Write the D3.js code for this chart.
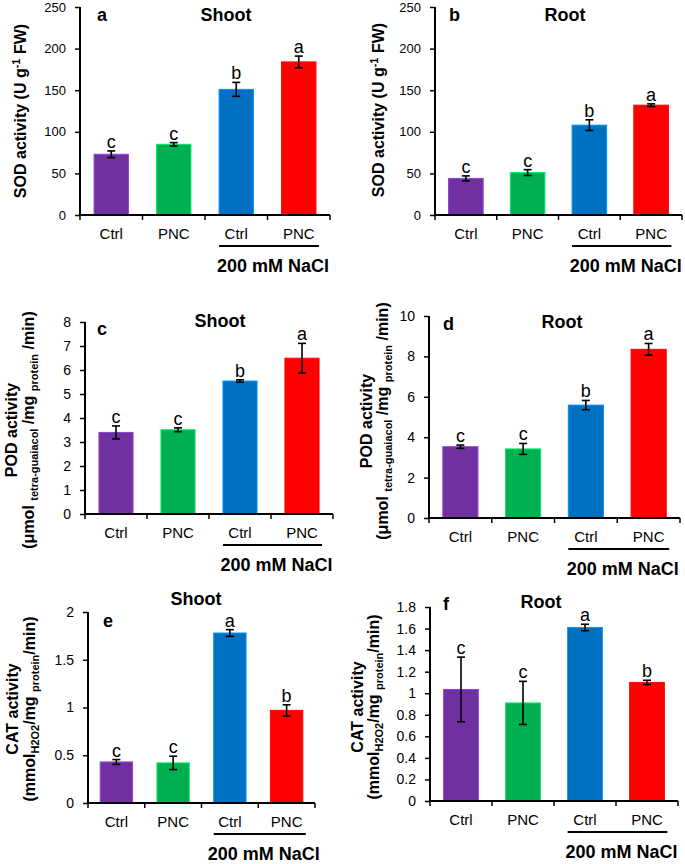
<!DOCTYPE html>
<html>
<head>
<meta charset="utf-8">
<script src="https://cdn.jsdelivr.net/npm/d3@7"></script>
<style>
  body { margin: 0; background: #fff; }
  svg { font-family: "Liberation Sans", Arial, sans-serif; }
</style>
</head>
<body>
<div id="chart"></div>
<script>
// data
var groups = ["Ctrl", "PNC", "Ctrl", "PNC"];
var barColors = ["#7030A0", "#00B050", "#0070C0", "#FF0000"];

var sodShoot = [73, 85, 151, 184];
var sodShootErr = [4, 2, 8.4, 7];
var sodShootSig = ["c", "c", "b", "a"];

var sodRoot = [44, 51, 108, 132];
var sodRootErr = [3, 3.5, 6.4, 1.6];
var sodRootSig = ["c", "c", "b", "a"];

var podShoot = [3.40, 3.51, 5.54, 6.49];
var podShootErr = [0.27, 0.08, 0.05, 0.62];
var podShootSig = ["c", "c", "b", "a"];

var podRoot = [3.53, 3.42, 5.59, 8.35];
var podRootErr = [0.08, 0.27, 0.23, 0.29];
var podRootSig = ["c", "c", "b", "a"];

var catShoot = [0.43, 0.42, 1.78, 0.97];
var catShootErr = [0.025, 0.07, 0.035, 0.058];
var catShootSig = ["c", "c", "a", "b"];

var catRoot = [1.035, 0.91, 1.61, 1.10];
var catRootErr = [0.30, 0.20, 0.03, 0.02];
var catRootSig = ["c", "c", "a", "b"];

var sodTicks = [0, 50, 100, 150, 200, 250];
var podShootTicks = [0, 1, 2, 3, 4, 5, 6, 7, 8];
var podRootTicks = [0, 2, 4, 6, 8, 10];
var catShootTicks = [0, 0.5, 1, 1.5, 2];
var catRootTicks = [0, 0.2, 0.4, 0.6, 0.8, 1, 1.2, 1.4, 1.6, 1.8];

var svg = d3.select("#chart").append("svg")
    .attr("width", 685)
    .attr("height", 864);

// each panel: frame in pixels + texts
var podLabel = [[["POD activity", "n"]],
                [["(μmol ", "n"], ["tetra-guaiacol", "sub"], [" /mg ", "n"], ["protein", "sub"], [" /min)", "n"]]];
var catLabel = [[["CAT activity", "n"]],
                [["(mmol", "n"], ["H2O2", "sub"], ["/mg ", "n"], ["protein", "sub"], ["/min)", "n"]]];
var sodLabel = [[["SOD activity (U g", "n"], ["-1", "sup"], [" FW)", "n"]]];

var panels = [
  {vals: sodShoot, err: sodShootErr, sig: sodShootSig, ticks: sodTicks, tickFont: 13,
   left: 80, right: 330, top: 7, bottom: 215, pad: 0.45,
   letter: "a", letterX: 97, letterY: 21, title: "Shoot", titleX: 226, titleY: 21,
   labelX: 26, labelY: 111, labelGap: 0, labelSize: 16, label: sodLabel},
  {vals: sodRoot, err: sodRootErr, sig: sodRootSig, ticks: sodTicks, tickFont: 13,
   left: 435, right: 682, top: 7, bottom: 215, pad: 0.44,
   letter: "b", letterX: 449, letterY: 21, title: "Root", titleX: 565, titleY: 21,
   labelX: 384, labelY: 110, labelGap: 0, labelSize: 16, label: sodLabel},
  {vals: podShoot, err: podShootErr, sig: podShootSig, ticks: podShootTicks, tickFont: 14,
   left: 85, right: 333, top: 322, bottom: 514, pad: 0.45,
   letter: "c", letterX: 97, letterY: 335, title: "Shoot", titleX: 220, titleY: 327,
   labelX: 17, labelY: 430, labelGap: 17, labelSize: 16, label: podLabel},
  {vals: podRoot, err: podRootErr, sig: podRootSig, ticks: podRootTicks, tickFont: 14,
   left: 429, right: 680, top: 316, bottom: 518, pad: 0.44,
   letter: "d", letterX: 443, letterY: 330, title: "Root", titleX: 562, titleY: 328,
   labelX: 372, labelY: 421, labelGap: 16, labelSize: 16, label: podLabel},
  {vals: catShoot, err: catShootErr, sig: catShootSig, ticks: catShootTicks, tickFont: 14,
   left: 88, right: 315, top: 612, bottom: 803, pad: 0.43,
   letter: "e", letterX: 103, letterY: 627, title: "Shoot", titleX: 196, titleY: 605,
   labelX: 18, labelY: 709, labelGap: 17, labelSize: 16, label: catLabel},
  {vals: catRoot, err: catRootErr, sig: catRootSig, ticks: catRootTicks, tickFont: 14,
   left: 430, right: 678, top: 607, bottom: 801, pad: 0.44,
   letter: "f", letterX: 443, letterY: 610, title: "Root", titleX: 541, titleY: 608,
   labelX: 363, labelY: 707, labelGap: 16, labelSize: 16, label: catLabel}
];

panels.forEach(drawPanel);

function drawPanel(p) {
  var g = svg.append("g");
  var idx = d3.range(groups.length);

  var x = d3.scaleBand()
      .domain(idx)
      .range([p.left, p.right])
      .paddingInner(p.pad)
      .paddingOuter(p.pad / 2);

  var y = d3.scaleLinear()
      .domain([0, d3.max(p.ticks)])
      .range([p.bottom, p.top]);

  // bars
  g.selectAll(".bar")
    .data(p.vals)
    .enter()
    .append("rect")
      .attr("x", (d, i) => x(i))
      .attr("y", d => y(d))
      .attr("width", x.bandwidth())
      .attr("height", d => y(0) - y(d))
      .attr("fill", (d, i) => barColors[i])
      .attr("stroke", (d, i) => d3.color(barColors[i]).brighter(0.8))
      .attr("stroke-width", 1);

  // error bars
  var eb = g.selectAll(".err")
    .data(p.vals)
    .enter()
    .append("g")
      .attr("stroke", "#000")
      .attr("stroke-width", 1.6);
  eb.append("line")
      .attr("x1", (d, i) => x(i) + x.bandwidth() / 2)
      .attr("x2", (d, i) => x(i) + x.bandwidth() / 2)
      .attr("y1", (d, i) => y(d + p.err[i]))
      .attr("y2", (d, i) => y(d - p.err[i]));
  [1, -1].forEach(function(s) {
    eb.append("line")
        .attr("x1", (d, i) => x(i) + x.bandwidth() / 2 - 4)
        .attr("x2", (d, i) => x(i) + x.bandwidth() / 2 + 4)
        .attr("y1", (d, i) => y(d + s * p.err[i]))
        .attr("y2", (d, i) => y(d + s * p.err[i]));
  });

  // significance letters
  g.selectAll(".sig")
    .data(p.vals)
    .enter()
    .append("text")
      .attr("x", (d, i) => x(i) + x.bandwidth() / 2)
      .attr("y", (d, i) => y(d + p.err[i]) - 3)
      .attr("text-anchor", "middle")
      .style("font-size", "18px")
      .text((d, i) => p.sig[i]);

  // y axis
  var yAxis = g.append("g")
      .attr("transform", "translate(" + p.left + ",0)")
      .call(d3.axisLeft(y).tickValues(p.ticks).tickSize(5).tickPadding(9)
        .tickFormat(v => String(v)));
  yAxis.select(".domain").attr("stroke-width", 2).attr("d", "M0," + p.top + "V" + p.bottom);
  yAxis.selectAll(".tick line").attr("stroke-width", 1.5);
  yAxis.selectAll("text").style("font-size", p.tickFont + "px").attr("fill", "#000");

  // x axis with category ticks at band edges
  var xAxis = g.append("g")
      .attr("transform", "translate(0," + p.bottom + ")")
      .call(d3.axisBottom(x).tickSize(0).tickPadding(13).tickFormat(i => groups[i]));
  xAxis.select(".domain").attr("stroke-width", 2).attr("d", "M" + (p.left - 1) + ",0H" + p.right);
  xAxis.selectAll("text").style("font-size", "15px").attr("fill", "#000");
  var edges = idx.map(i => x(i) - x.step() * x.paddingInner() / 2).concat([p.right]);
  xAxis.selectAll(".edge")
    .data(edges)
    .enter()
    .append("line")
      .attr("x1", d => d).attr("x2", d => d)
      .attr("y1", 0).attr("y2", 5)
      .attr("stroke", "#000").attr("stroke-width", 1.5);

  // NaCl bracket
  var bx0 = x(2), bx1 = x(3) + x.bandwidth() + 3;
  g.append("line")
      .attr("x1", bx0).attr("x2", bx1)
      .attr("y1", p.bottom + 31).attr("y2", p.bottom + 31)
      .attr("stroke", "#000").attr("stroke-width", 2);
  g.append("text")
      .attr("x", (bx0 + bx1) / 2 + 4)
      .attr("y", p.bottom + 57)
      .attr("text-anchor", "middle")
      .style("font-size", "18px").style("font-weight", "bold")
      .text("200 mM NaCl");

  // panel letter and title
  g.append("text")
      .attr("x", p.letterX).attr("y", p.letterY)
      .style("font-size", "18px").style("font-weight", "bold")
      .text(p.letter);
  g.append("text")
      .attr("x", p.titleX).attr("y", p.titleY)
      .attr("text-anchor", "middle")
      .style("font-size", "18px").style("font-weight", "bold")
      .text(p.title);

  // y axis label, rotated, with sub/superscripts
  var lab = g.append("g")
      .attr("transform", "translate(" + p.labelX + "," + p.labelY + ") rotate(-90)");
  p.label.forEach(function(line, li) {
    var t = lab.append("text")
        .attr("x", 0)
        .attr("y", li * p.labelGap)
        .attr("text-anchor", "middle")
        .style("font-size", p.labelSize + "px")
        .style("font-weight", "bold");
    var shift = 0;
    line.forEach(function(part) {
      var want = part[1] == "sub" ? 4 : part[1] == "sup" ? -6 : 0;
      t.append("tspan")
          .attr("dy", want - shift)
          .style("font-size", part[1] == "n" ? null : "11px")
          .text(part[0]);
      shift = want;
    });
  });
}
</script>
</body>
</html>
